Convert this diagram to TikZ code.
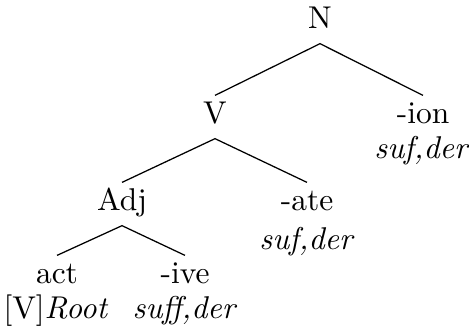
\documentclass[tikz,border=0pt]{standalone}
\begin{document}
\begin{tikzpicture}[x=0.3175pt,y=-0.3175pt,
  cat/.style={inner xsep=2pt,inner ysep=1.67pt,text height=6.9pt,text depth=3.1pt,anchor=base},
  gloss/.style={inner sep=0pt,anchor=base},
  branch/.style={line width=0.4pt}]
\useasboundingbox (0,0) rectangle (469,332);
% tree nodes (positioned by baseline)
\node[cat] (N)   at (320,28)  {N};
\node[cat] (V)   at (215,123) {V};
\node[cat] (ion) at (423,123) {-ion};
\node[cat] (Adj) at (122,210) {Adj};
\node[cat] (ate) at (307,210) {-ate};
\node[cat] (act) at (57,283)  {act};
\node[cat] (ive) at (185,283) {-ive};
% glosses under the morphemes
\node[gloss] (ionG) at (422,158) {\textit{suf,der}};
\node[gloss] (ateG) at (307,249) {\textit{suf,der}};
\node[gloss] (actG) at (56,318)  {[V]\textit{Root}};
\node[gloss] (iveG) at (185,318) {\textit{suff,der}};
% branches
\draw[branch] (V.north) -- (N.south) -- (ion.north);
\draw[branch] (Adj.north) -- (V.south) -- (ate.north);
\draw[branch] (act.north) -- (Adj.south) -- (ive.north);
\end{tikzpicture}
\end{document}
